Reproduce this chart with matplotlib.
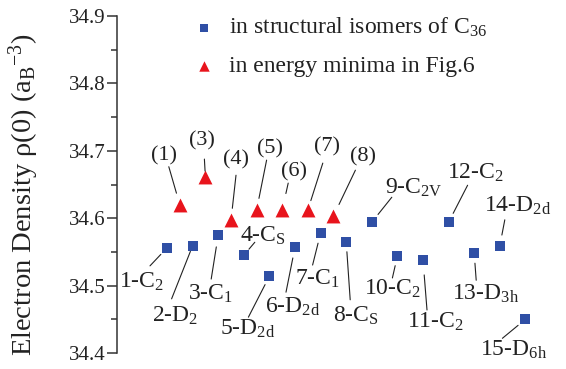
import matplotlib
matplotlib.use("Agg")
import matplotlib.pyplot as plt
from matplotlib.ticker import MultipleLocator, FormatStrFormatter

plt.rcParams['font.family'] = ['Liberation Serif', 'DejaVu Serif']
plt.rcParams['mathtext.fontset'] = 'custom'
plt.rcParams['mathtext.rm'] = 'Liberation Serif'
plt.rcParams['mathtext.it'] = 'Liberation Serif:italic'
plt.rcParams['mathtext.default'] = 'regular'

# ---- data ----
iso_x = [1, 2, 3, 4, 5, 6, 7, 8, 9, 10, 11, 12, 13, 14, 15]
iso_rho = [34.556, 34.559, 34.575, 34.545, 34.514, 34.557, 34.578, 34.565,
           34.594, 34.544, 34.538, 34.594, 34.548, 34.559, 34.450]
iso_labels = ["1-C$_2$", "2-D$_2$", "3-C$_1$", "4-C$_S$", "5-D$_{2d}$",
              "6-D$_{2d}$", "7-C$_1$", "8-C$_S$", "9-C$_{2V}$", "10-C$_2$",
              "11-C$_2$", "12-C$_2$", "13-D$_{3h}$", "14-D$_{2d}$", "15-D$_{6h}$"]

min_x = [1.5, 2.5, 3.5, 4.5, 5.5, 6.5, 7.5]
min_rho = [34.620, 34.661, 34.597, 34.612, 34.612, 34.612, 34.603]
min_labels = ["(1)", "(3)", "(4)", "(5)", "(6)", "(7)", "(8)"]

legend_labels = ["in structural isomers of C$_{36}$", "in energy minima in Fig.6"]
ylabel = "Electron Density \u03c1(0) (a$_B$$^{-3}$)"
yticks = [34.4, 34.5, 34.6, 34.7, 34.8, 34.9]

# ---- label placement (pixels: text baseline offset, line start offset, shrink) ----
iso_text_off = [(-25, -40), (-17, -76), (-8, -65), (19, 14), (-22, -59),
                (-2, -66), (-3, -52), (10, -80), (42, 29), (-5, -39),
                (12, -68), (27, 44), (11, -46), (18, 34), (-12, -36)]
iso_line_off = [(-17, -18), (-21, -53), (-7, -44), (11, 13), (-21, -41),
                (-9, -45), (-8, -32), (4, -58), (20, 25), (-5, -22),
                (4, -50), (19, 37), (2, -27), (5, 26), (-23, -19)]
iso_shrink = [9, 6, 12, 8, 9.5, 11, 10.5, 10, 10, 10, 15, 10, 10, 11, 9.5]

min_text_off = [(-16, 44), (-3, 32), (5, 56), (13, 57), (12, 34), (19, 59), (30, 55)]
min_line_off = [(-11, 38), (-1, 18), (5, 45), (10, 50), (6, 27), (15, 47), (22, 46)]
min_shrink = [12, 6, 12, 12, 17, 10, 13]

BLUE = "#2f4fa5"
RED = "#e8141c"
DARK = "#333333"

W, H = 566, 369
fig = plt.figure(figsize=(W / 100, H / 100), dpi=100)
ax = fig.add_axes([117 / W, (H - 353) / H, (W - 117) / W, (353 - 16) / H])
ax.set_xlim(1 - 50 / 25.6, 1 + (W - 167) / 25.6)
ax.set_ylim(34.4, 34.9)

for s in ['top', 'right', 'bottom']:
    ax.spines[s].set_visible(False)
ax.spines['left'].set_color(DARK)
ax.spines['left'].set_linewidth(1.1)
ax.xaxis.set_visible(False)
ax.set_yticks(yticks)
ax.yaxis.set_major_formatter(FormatStrFormatter('%.1f'))
ax.yaxis.set_minor_locator(MultipleLocator(0.05))
ax.tick_params(axis='y', which='major', direction='out', length=7, width=1.1,
               color=DARK, labelsize=15, labelcolor='#222222', pad=1)
ax.tick_params(axis='y', which='minor', direction='out', length=4, width=1.1, color=DARK)
ax.set_ylabel(ylabel, fontsize=20.5, color='#222222')
ax.yaxis.set_label_coords((41 - 117) / (W - 117), (353 - 195) / 337)

h1 = ax.scatter(iso_x, iso_rho, marker='s', s=62, color=BLUE, linewidths=0, zorder=3)
h2 = ax.scatter(min_x, min_rho, marker='^', s=100, color=RED, linewidths=0, zorder=3)

def place(xs, ys, labels, toff, loff, shr, fs):
    for x, y, lab, t, l, s in zip(xs, ys, labels, toff, loff, shr):
        ax.annotate(lab, xy=(x, y), xytext=t, textcoords='offset pixels',
                    ha='center', va='baseline', fontsize=fs, color='#222222')
        ax.annotate('', xy=(x, y), xytext=l, textcoords='offset pixels',
                    arrowprops=dict(arrowstyle='-', color='#222222', lw=0.8,
                                    shrinkA=0, shrinkB=s * 0.72))

place(iso_x, iso_rho, iso_labels, iso_text_off, iso_line_off, iso_shrink, 17)
place(min_x, min_rho, min_labels, min_text_off, min_line_off, min_shrink, 16)

leg = ax.legend([h1, h2], legend_labels, loc='upper left',
                bbox_to_anchor=(192 / W, 1 - 16 / H), bbox_transform=fig.transFigure,
                frameon=False, fontsize=17, handlelength=1.0, handletextpad=0.55,
                labelspacing=0.68, borderpad=0, borderaxespad=0,
                scatterpoints=1, markerscale=0.75)
for t in leg.get_texts():
    t.set_color('#222222')

fig.savefig("out.png", dpi=100)
